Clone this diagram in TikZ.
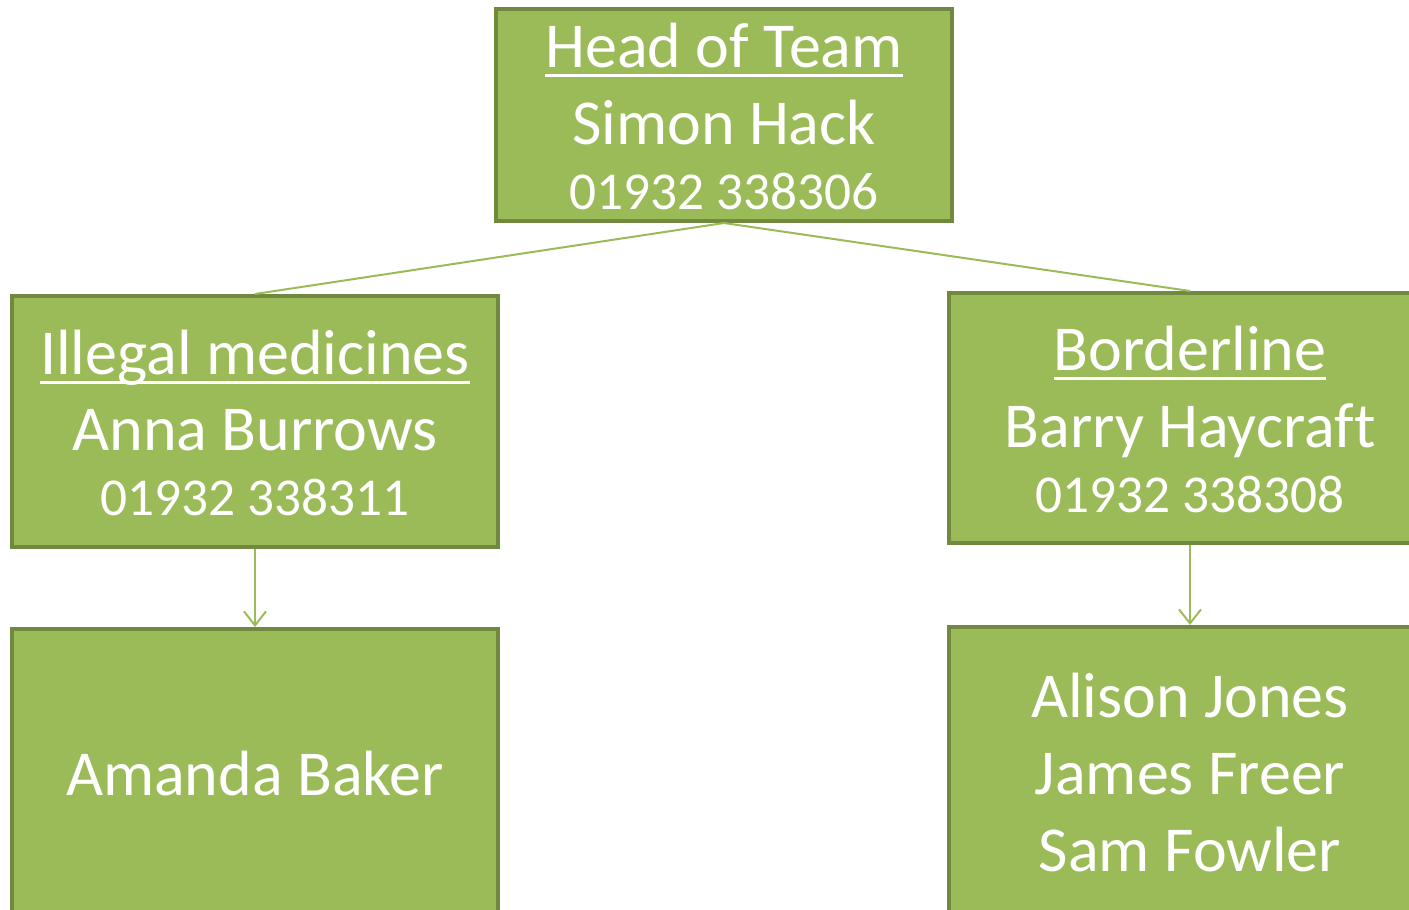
\documentclass[tikz,border=0pt]{standalone}
\usepackage{fontspec}
\setmainfont{Carlito}[Ligatures=NoCommon]
\usetikzlibrary{arrows.meta}
\definecolor{boxfill}{HTML}{9BBB59}
\definecolor{boxedge}{HTML}{71893F}
\newcommand{\bigtxt}{\fontsize{64}{70}\selectfont}
\newcommand{\smalltxt}{\fontsize{53.3}{60}\selectfont}
\newcommand{\myuline}[1]{\setbox0\hbox{#1}\rlap{\raisebox{-10pt}{\rule{\wd0}{3pt}}}\box0}
\tikzset{
  orgbox/.style={draw=boxedge, fill=boxfill, line width=4pt, rectangle, inner sep=0pt},
  txt/.style={text=white, anchor=base, inner sep=0pt, font=\bigtxt},
  ph/.style={text=white, anchor=base, inner sep=0pt, font=\smalltxt},
  link/.style={draw=boxfill, line width=2pt},
  arr/.style={link, -{Straight Barb[length=14pt,width=22pt,line width=2pt]}}
}
\begin{document}
\begin{tikzpicture}[x=1pt,y=-1pt]
\useasboundingbox (0,0) rectangle (1409,910);
\clip (0,0) rectangle (1409,910);
% boxes
\node[orgbox, minimum width=456, minimum height=212] (head) at (724,115) {};
\node[orgbox, minimum width=486, minimum height=251] (ill) at (255,421.5) {};
\node[orgbox, minimum width=482, minimum height=250] (bord) at (1190,418) {};
\node[orgbox, minimum width=486, minimum height=292] (illsub) at (255,775) {};
\node[orgbox, minimum width=482, minimum height=294] (bordsub) at (1190,774) {};
% connectors
\draw[link] (head.south) -- (ill.north);
\draw[link] (head.south) -- (bord.north);
\draw[arr] (ill.south) -- (illsub.north);
\draw[arr] (bord.south) -- (bordsub.north);
% texts
\node[txt] (headT) at (724,67) {\myuline{Head of Team}};
\node[txt] (headN) at (724,144) {Simon Hack};
\node[ph] (headP) at (724,209) {01932 338306};
\node[txt] (illT) at (255,374) {\myuline{Illegal medicines}};
\node[txt] (illN) at (255,450) {Anna Burrows};
\node[ph] (illP) at (255,515) {01932 338311};
\node[txt] (bordT) at (1190,370) {\myuline{Borderline}};
\node[txt] (bordN) at (1190,447) {Barry Haycraft};
\node[ph] (bordP) at (1190,512) {01932 338308};
\node[txt] (illsubN) at (255,795) {Amanda Baker};
\node[txt] (bs1) at (1190,717) {Alison Jones};
\node[txt] (bs2) at (1190,794) {James Freer};
\node[txt] (bs3) at (1190,871) {Sam Fowler};
\end{tikzpicture}
\end{document}
